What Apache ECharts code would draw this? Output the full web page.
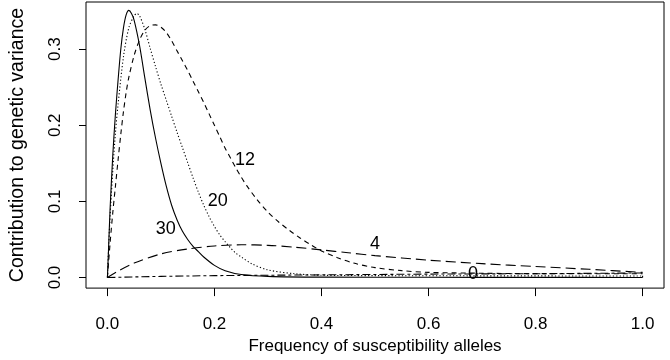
<!DOCTYPE html>
<html><head><meta charset="utf-8">
<script src="https://cdn.jsdelivr.net/npm/echarts@6/dist/echarts.min.js"></script>
<style>html,body{margin:0;padding:0;background:#fff}#c{width:670px;height:360px}</style>
</head><body><div id="c"></div>
<script>
// tick values
const xTicks = [0, 0.2, 0.4, 0.6, 0.8, 1.0];
const yTicks = [0, 0.1, 0.2, 0.3];

// curves: [allele frequency, contribution]
const s30 = [[0,0],[0.002,0.035],[0.005,0.09],[0.01,0.16],[0.015,0.215],[0.02,0.26],[0.025,0.30],[0.03,0.328],[0.035,0.345],[0.04,0.351],[0.045,0.347],[0.05,0.338],[0.06,0.305],[0.07,0.262],[0.08,0.220],[0.09,0.183],[0.10,0.150],[0.11,0.120],[0.12,0.095],[0.13,0.076],[0.14,0.061],[0.15,0.050],[0.16,0.041],[0.17,0.034],[0.18,0.027],[0.20,0.016],[0.22,0.009],[0.25,0.004],[0.30,0.0015],[0.40,0.0005],[0.60,0.0003],[0.80,0.0002],[1.0,0.0001]];
const s20 = [[0,0],[0.002,0.035],[0.005,0.08],[0.01,0.14],[0.015,0.19],[0.02,0.228],[0.03,0.29],[0.04,0.328],[0.05,0.344],[0.055,0.347],[0.06,0.344],[0.07,0.326],[0.08,0.301],[0.09,0.277],[0.10,0.254],[0.11,0.233],[0.12,0.212],[0.13,0.191],[0.14,0.171],[0.15,0.151],[0.16,0.131],[0.17,0.112],[0.18,0.095],[0.19,0.080],[0.20,0.067],[0.21,0.056],[0.22,0.047],[0.23,0.039],[0.24,0.032],[0.25,0.027],[0.27,0.018],[0.30,0.010],[0.35,0.005],[0.40,0.003],[0.50,0.0025],[0.70,0.0022],[1.0,0.002]];
const s12 = [[0,0],[0.005,0.045],[0.01,0.085],[0.015,0.12],[0.02,0.155],[0.025,0.188],[0.03,0.218],[0.035,0.243],[0.04,0.263],[0.05,0.292],[0.06,0.312],[0.07,0.325],[0.08,0.331],[0.09,0.332],[0.10,0.329],[0.11,0.322],[0.12,0.311],[0.13,0.298],[0.14,0.285],[0.15,0.272],[0.16,0.258],[0.17,0.244],[0.18,0.230],[0.19,0.215],[0.20,0.200],[0.21,0.185],[0.22,0.170],[0.23,0.157],[0.24,0.144],[0.25,0.132],[0.26,0.121],[0.28,0.102],[0.30,0.086],[0.32,0.073],[0.34,0.062],[0.36,0.052],[0.38,0.043],[0.40,0.035],[0.43,0.026],[0.46,0.019],[0.50,0.013],[0.55,0.009],[0.60,0.0068],[0.70,0.0056],[0.80,0.0051],[1.0,0.005]];
const s4 = [[0,0],[0.02,0.0085],[0.05,0.019],[0.10,0.031],[0.15,0.0375],[0.20,0.0415],[0.25,0.043],[0.30,0.0423],[0.35,0.0398],[0.40,0.0363],[0.45,0.0325],[0.50,0.0288],[0.60,0.0228],[0.70,0.0182],[0.80,0.0145],[0.90,0.0108],[1.0,0.0068]];
const s0 = [[0,0],[0.1,0.0015],[0.2,0.0025],[0.4,0.0035],[0.6,0.0045],[0.8,0.005],[1.0,0.006],[1.0,0]];

// curve annotations
const labelNames = ['30','20','12','4','0'];
const labelX = [0.109, 0.206, 0.257, 0.5, 0.683];
const labelY = [0.064, 0.101, 0.155, 0.044, 0.005];

const FONT = 'Liberation Sans, Arial, Helvetica, sans-serif';
const chart = echarts.init(document.getElementById('c'), null, {renderer:'canvas'});

function curve(name, data, dash, smooth) {
  return {
    name, type:'line', data, showSymbol:false, symbol:'none',
    smooth: smooth ? 0.3 : false,
    lineStyle:{color:'#000', width:1.1, type:dash},
    silent:true, animation:false
  };
}

chart.setOption({
  animation:false,
  backgroundColor:'#fff',
  grid:{left:83, right:6, top:2, bottom:68, show:true, borderColor:'#000', borderWidth:1, backgroundColor:'transparent'},
  xAxis:{
    type:'value', min:-0.04, max:1.04,
    axisLine:{show:false, onZero:false}, splitLine:{show:false},
    axisTick:{show:true, customValues:xTicks, length:8, lineStyle:{color:'#000', width:1}},
    axisLabel:{customValues:xTicks, formatter:v=>v.toFixed(1), color:'#000', fontSize:17, fontFamily:FONT, margin:28},
    name:'Frequency of susceptibility alleles', nameLocation:'middle', nameGap:46,
    nameTextStyle:{color:'#000', fontSize:17, fontFamily:FONT}
  },
  yAxis:{
    type:'value', min:-0.0139, max:0.362,
    axisLine:{show:false, onZero:false}, splitLine:{show:false},
    axisTick:{show:true, customValues:yTicks, length:7, lineStyle:{color:'#000', width:1}},
    axisLabel:{customValues:yTicks, formatter:v=>v.toFixed(1), color:'#000', fontSize:17, fontFamily:FONT, rotate:90, margin:22},
    name:'Contribution to genetic variance', nameLocation:'middle', nameGap:58, nameRotate:90,
    nameTextStyle:{color:'#000', fontSize:19.5, fontFamily:FONT}
  },
  series:[
    curve('30', s30, 'solid', true),
    curve('20', s20, [1.2,2.2], true),
    curve('12', s12, [5,4], true),
    curve('4', s4, [10,5], true),
    curve('0', s0, [8,3,3,3], false),
    {
      type:'scatter', symbolSize:0, silent:true, animation:false,
      data: labelNames.map((n,i)=>({name:n, value:[labelX[i], labelY[i]]})),
      label:{show:true, position:'inside', formatter:p=>p.name, color:'#000', fontSize:18, fontFamily:FONT, textBorderWidth:0, textBorderColor:'transparent', opacity:1}
    }
  ]
});
</script>
</body></html>
